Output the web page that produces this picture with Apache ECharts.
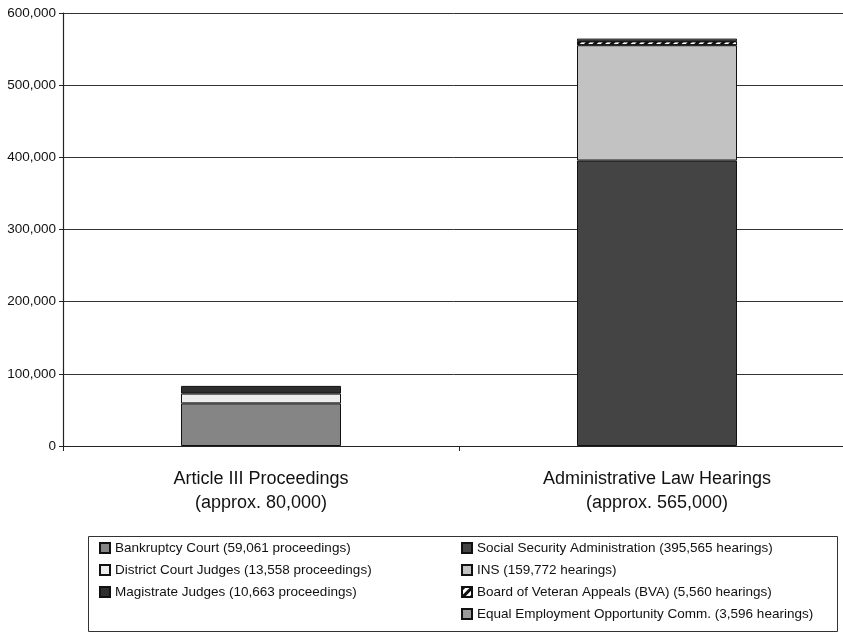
<!DOCTYPE html>
<html><head><meta charset="utf-8">
<script src="https://cdn.jsdelivr.net/npm/echarts@6/dist/echarts.min.js"></script>
<style>html,body{margin:0;padding:0;background:#fff}#c{width:843px;height:633px}</style>
</head><body><div id="c"></div>
<script>
const categories = ['Article III Proceedings\n(approx. 80,000)', 'Administrative Law Hearings\n(approx. 565,000)'];
const yTicks = [0, 100000, 200000, 300000, 400000, 500000, 600000];
const seriesNames = [
  'Bankruptcy Court (59,061 proceedings)',
  'District Court Judges (13,558 proceedings)',
  'Magistrate Judges (10,663 proceedings)',
  'Social Security Administration (395,565 hearings)',
  'INS (159,772 hearings)',
  'Board of Veteran Appeals (BVA) (5,560 hearings)',
  'Equal Employment Opportunity Comm. (3,596 hearings)'
];
const bankruptcy = [59061, null];
const district = [13558, null];
const magistrate = [10663, null];
const ssa = [null, 395565];
const ins = [null, 159772];
const bva = [null, 5560];
const eeoc = [null, 3596];
const values = [bankruptcy, district, magistrate, ssa, ins, bva, eeoc];
const colors = ['#858585', '#ececec', '#2e2e2e', '#444444', '#c2c2c2', '#ffffff', '#9a9a9a'];

const chart = echarts.init(document.getElementById('c'));
const series = seriesNames.map((n, i) => {
  const s = {
    name: n, type: 'bar', stack: 'total', data: values[i], barWidth: 160,
    itemStyle: { color: colors[i], borderColor: '#111', borderWidth: 1 }
  };
  if (i === 5) {
    s.itemStyle.decal = { symbol: 'rect', color: '#111', dashArrayX: [1, 0], dashArrayY: [3, 3], rotation: -Math.PI / 4, symbolSize: 1 };
  }
  return s;
});
const font = 'Liberation Sans, Arial, sans-serif';
const legendText = { fontFamily: font, fontSize: 13.5, color: '#111', lineHeight: 12 };
chart.setOption({
  animation: false,
  aria: { enabled: true, decal: { show: false } },
  grid: { left: 63, width: 792, top: 13, bottom: 187, containLabel: false, outerBoundsMode: 'none' },
  xAxis: {
    type: 'category', data: categories,
    axisLine: { show: true, lineStyle: { color: '#222', width: 1 } },
    axisTick: { show: true, length: 5, lineStyle: { color: '#222' } },
    axisLabel: { fontFamily: font, fontSize: 18, color: '#111', lineHeight: 24, margin: 21 }
  },
  yAxis: {
    type: 'value', min: 0, max: 600000, interval: 100000,
    axisLine: { show: true, lineStyle: { color: '#222', width: 1.2 } },
    axisTick: { show: true, length: 4, lineStyle: { color: '#222' } },
    splitLine: { show: true, lineStyle: { color: '#333', width: 1 } },
    axisLabel: {
      fontFamily: font, fontSize: 13.5, color: '#111', margin: 7,
      formatter: v => yTicks.includes(v) ? v.toLocaleString('en-US') : ''
    }
  },
  legend: [
    { data: seriesNames.slice(0, 3), orient: 'vertical', left: 99, top: 541, padding: 0, itemWidth: 10, itemHeight: 10, itemGap: 8,
      textStyle: legendText, icon: 'rect', selectedMode: false },
    { data: seriesNames.slice(3), orient: 'vertical', left: 461, top: 541, padding: 0, itemWidth: 10, itemHeight: 10, itemGap: 8,
      textStyle: legendText, icon: 'rect', selectedMode: false }
  ],
  graphic: [
    { type: 'rect', shape: { x: 88.5, y: 536.5, width: 749, height: 95 }, style: { fill: 'none', stroke: '#333', lineWidth: 1 }, silent: true }
  ],
  series: series
});
</script>
</body></html>
